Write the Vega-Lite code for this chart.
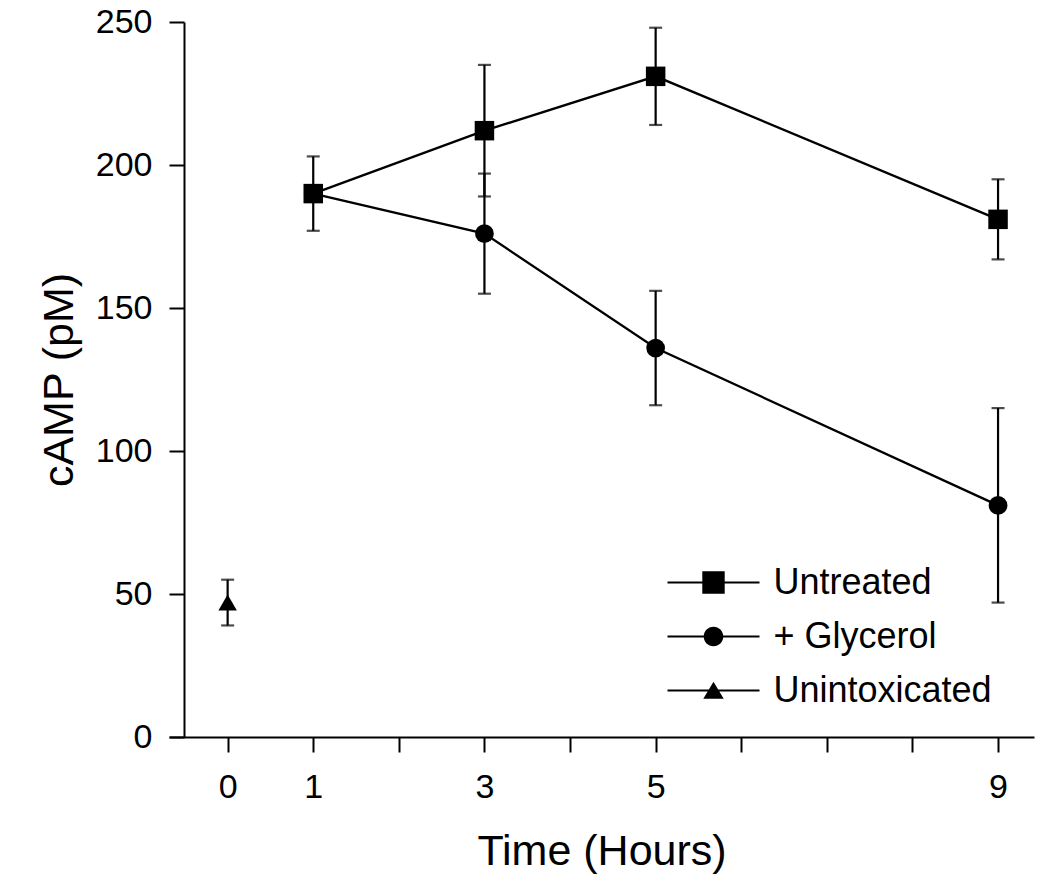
{
  "$schema": "https://vega.github.io/schema/vega-lite/v6.json",
  "width": 865,
  "height": 715,
  "autosize": "none",
  "padding": {"left": 169, "top": 22, "right": 16, "bottom": 147},
  "background": "white",
  "config": {
    "view": {"stroke": null},
    "font": "Liberation Sans",
    "axis": {
      "domainColor": "black",
      "domainWidth": 2,
      "tickColor": "black",
      "tickWidth": 2,
      "tickSize": 15,
      "labelColor": "black",
      "labelFont": "Liberation Sans",
      "labelFontSize": 34,
      "titleColor": "black",
      "titleFont": "Liberation Sans",
      "titleFontSize": 43,
      "titleFontWeight": "normal",
      "grid": false,
      "labelFlush": false,
      "labelOverlap": false
    }
  },
  "data": {
    "values": [
      {"series": "+ Glycerol", "time": 1, "value": 190},
      {"series": "+ Glycerol", "time": 3, "value": 176, "lo": 155, "hi": 197},
      {"series": "+ Glycerol", "time": 5, "value": 136, "lo": 116, "hi": 156},
      {"series": "+ Glycerol", "time": 9, "value": 81, "lo": 47, "hi": 115},
      {"series": "Untreated", "time": 1, "value": 190, "lo": 177, "hi": 203},
      {"series": "Untreated", "time": 3, "value": 212, "lo": 189, "hi": 235},
      {"series": "Untreated", "time": 5, "value": 231, "lo": 214, "hi": 248},
      {"series": "Untreated", "time": 9, "value": 181, "lo": 167, "hi": 195},
      {"series": "Unintoxicated", "time": 0, "value": 47, "lo": 39, "hi": 55}
    ]
  },
  "encoding": {
    "x": {
      "field": "time",
      "type": "quantitative",
      "scale": {"domain": [-0.685, 9.42], "nice": false, "zero": false},
      "axis": {
        "title": "Time (Hours)",
        "values": [0, 1, 2, 3, 4, 5, 6, 7, 8, 9],
        "labelExpr": "indexof([0, 1, 3, 5, 9], datum.value) >= 0 ? datum.label : ''",
        "labelPadding": 18,
        "titlePadding": 26
      }
    }
  },
  "layer": [
    {
      "mark": {"type": "line", "color": "black", "strokeWidth": 2.3},
      "encoding": {
        "y": {
          "field": "value",
          "type": "quantitative",
          "scale": {"domain": [0, 250], "nice": false},
          "axis": {
            "title": "cAMP (pM)",
            "values": [0, 50, 100, 150, 200, 250],
            "offset": -15,
            "labelPadding": 17,
            "titlePadding": 14
          }
        },
        "detail": {"field": "series"}
      }
    },
    {
      "mark": {"type": "rule", "color": "black", "strokeWidth": 2.2},
      "encoding": {
        "y": {"field": "lo", "type": "quantitative"},
        "y2": {"field": "hi"}
      }
    },
    {
      "mark": {"type": "tick", "orient": "horizontal", "color": "black", "size": 13, "thickness": 2.2},
      "encoding": {"y": {"field": "lo", "type": "quantitative"}}
    },
    {
      "mark": {"type": "tick", "orient": "horizontal", "color": "black", "size": 13, "thickness": 2.2},
      "encoding": {"y": {"field": "hi", "type": "quantitative"}}
    },
    {
      "transform": [{"filter": "datum.series === '+ Glycerol'"}],
      "mark": {"type": "point", "shape": "circle", "filled": true, "color": "black", "opacity": 1, "size": 350},
      "encoding": {"y": {"field": "value", "type": "quantitative"}}
    },
    {
      "transform": [{"filter": "datum.series === 'Unintoxicated'"}],
      "mark": {"type": "point", "shape": "triangle-up", "filled": true, "color": "black", "opacity": 1, "size": 340},
      "encoding": {"y": {"field": "value", "type": "quantitative"}}
    },
    {
      "transform": [{"filter": "datum.series === 'Untreated'"}],
      "mark": {"type": "point", "shape": "square", "filled": true, "color": "black", "opacity": 1, "size": 380},
      "encoding": {"y": {"field": "value", "type": "quantitative"}}
    },
    {
      "transform": [{"filter": "datum.time > 100"}],
      "mark": {"type": "point", "filled": true, "color": "black", "opacity": 1},
      "encoding": {
        "y": {"field": "value", "type": "quantitative"},
        "shape": {
          "field": "series",
          "type": "nominal",
          "scale": {
            "domain": ["Untreated", "+ Glycerol", "Unintoxicated"],
            "range": [
              "M-4.6,-0.11H4.6V0.11H-4.6ZM-1.12,-1.12H1.12V1.12H-1.12Z",
              "M-4.6,-0.11H4.6V0.11H-4.6ZM-0.98,0A0.98,0.98,0,1,1,0.98,0A0.98,0.98,0,1,1,-0.98,0Z",
              "M-4.6,-0.11H4.6V0.11H-4.6ZM0,-0.88L1.02,0.82H-1.02Z"
            ]
          },
          "legend": {
            "title": null,
            "orient": "none",
            "legendX": 498,
            "legendY": 542.5,
            "padding": 0,
            "symbolSize": 400,
            "symbolFillColor": "black",
            "symbolOpacity": 1,
            "symbolOffset": 28.5,
            "labelOffset": 42,
            "labelFont": "Liberation Sans",
            "labelFontSize": 36,
            "labelColor": "black",
            "labelLimit": 400,
            "rowPadding": 18
          }
        }
      }
    }
  ]
}
